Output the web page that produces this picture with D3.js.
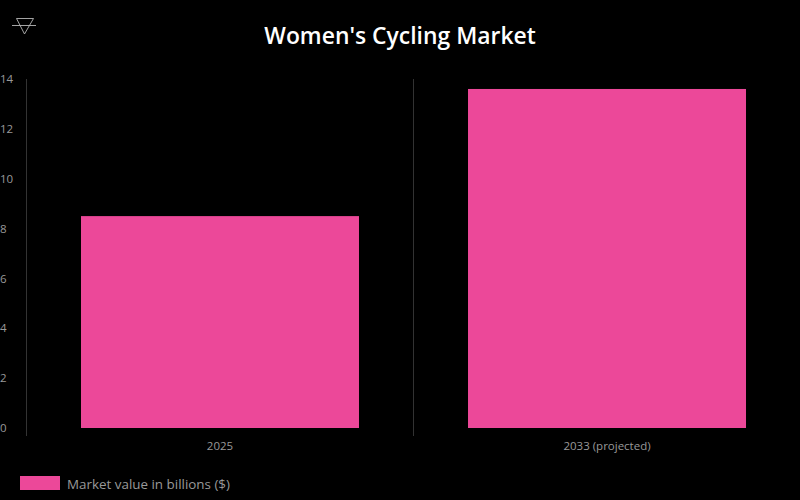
<!DOCTYPE html>
<html><head><meta charset="utf-8">
<script src="https://cdn.jsdelivr.net/npm/d3@7/dist/d3.min.js"></script>
<style>html,body{margin:0;padding:0;background:#000}svg{display:block}text{font-family:"Open Sans","Noto Sans",sans-serif;opacity:.999}</style>
</head><body><svg id="c" width="800" height="500"></svg>
<script>
const categories = ["2025", "2033 (projected)"];
const marketValues = [8.5, 13.6];
const yTicks = [0, 2, 4, 6, 8, 10, 12, 14];
const chartTitle = "Women's Cycling Market";
const seriesName = "Market value in billions ($)";

const svg = d3.select("#c");
svg.append("rect").attr("width", 800).attr("height", 500).attr("fill", "#000");

const x = d3.scaleBand().domain(categories).range([26.5, 800.5]).paddingInner(0.2817).paddingOuter(0.1408);
const y = d3.scaleLinear().domain([0, 14]).range([428, 79]);

// logo
const logo = svg.append("g").attr("fill", "none").attr("stroke", "#b5b5b5").attr("stroke-width", 0.9);
logo.append("path").attr("d", d3.line()([[16.5, 18.5], [33.5, 18.5], [24.5, 34], [16.5, 18.5]]));
logo.append("path").attr("d", d3.line()([[12, 25.5], [36, 25.5]]));

svg.append("text").attr("x", 400).attr("y", 44).attr("text-anchor", "middle")
  .attr("font-size", 22.9).attr("font-weight", 600).attr("fill", "#fff").text(chartTitle);

// y labels
const yAxis = svg.append("g").attr("transform", "translate(0,0)")
  .call(d3.axisRight(y).tickValues(yTicks).tickSize(0).tickPadding(0));
yAxis.select(".domain").remove();
yAxis.selectAll("text").attr("font-size", 11.5).attr("fill", "#999").attr("text-anchor", "start")
  .style("font-family", '"Open Sans","Noto Sans",sans-serif');

// category separators
const seps = d3.range(categories.length).map(i => x.range()[0] + i * x.step());
svg.selectAll("line.sep").data(seps).join("line").attr("class", "sep")
  .attr("x1", d => d).attr("x2", d => d).attr("y1", y(14)).attr("y2", 436)
  .attr("stroke", "#333").attr("stroke-width", 1);

// bars
svg.selectAll("rect.bar").data(marketValues).join("rect").attr("class", "bar")
  .attr("x", (d, i) => x(categories[i])).attr("width", x.bandwidth())
  .attr("y", d => y(d)).attr("height", d => y(0) - y(d)).attr("fill", "#ec4899");

// x labels
const xAxis = svg.append("g").attr("transform", "translate(0,442)")
  .call(d3.axisBottom(x).tickSize(0).tickPadding(0));
xAxis.select(".domain").remove();
xAxis.selectAll("text").attr("font-size", 11.5).attr("fill", "#999")
  .style("font-family", '"Open Sans","Noto Sans",sans-serif');

// legend
svg.append("rect").attr("x", 20).attr("y", 476).attr("width", 40).attr("height", 14).attr("fill", "#ec4899");
svg.append("text").attr("x", 67).attr("y", 488.5).attr("font-size", 13.4).attr("fill", "#999").text(seriesName);
</script></body></html>
